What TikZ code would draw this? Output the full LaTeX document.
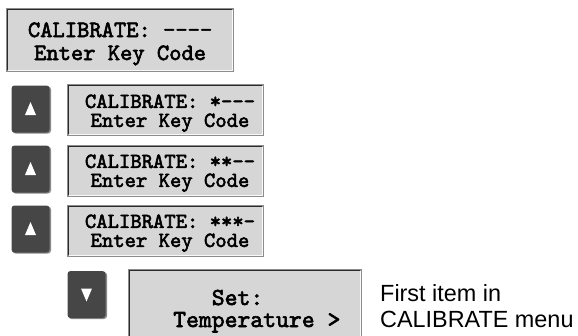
\documentclass[tikz,border=0pt]{standalone}
\usepackage{fontspec}
\setmainfont{Liberation Sans}
\newfontfamily\lcdfont{lmmono10-regular.otf}[FakeBold=2.5]
\definecolor{lcdfill}{HTML}{D6D6D6}
\definecolor{lcdedge}{HTML}{8C8C8C}
\definecolor{lcddark}{HTML}{2A2A2A}
\definecolor{btnfill}{HTML}{464646}
\definecolor{btnrim}{HTML}{8A8A8A}
\tikzset{
  lcdbox/.style={draw=lcdedge, line width=1.3pt, fill=lcdfill, inner sep=0pt, rectangle},
  btn/.style={fill=btnfill, rounded corners=3pt, inner sep=0pt, rectangle, minimum width=38pt, minimum height=47pt},
  lcdtxt/.style={inner sep=0pt, align=center},
  big/.style={lcdtxt, font=\lcdfont\fontsize{23.4}{23}\selectfont},
  small/.style={lcdtxt, font=\lcdfont\fontsize{21.6}{19}\selectfont},
  last/.style={lcdtxt, align=left, anchor=west, font=\lcdfont\fontsize{24.5}{22}\selectfont},
  note/.style={inner sep=0pt, align=left, anchor=west, font=\fontsize{23.4}{26}\selectfont},
  tri/.style={fill=white}
}
\newcommand{\lcdinner}[1]{%
  \draw[lcddark, line width=0.8pt] ([xshift=1.3pt,yshift=1.3pt]#1.south west) -- ([xshift=1.3pt,yshift=-1.3pt]#1.north west) -- ([xshift=-1.3pt,yshift=-1.3pt]#1.north east);
  \draw[white!85!lcdfill, line width=0.8pt] ([xshift=-1.3pt,yshift=-1.3pt]#1.north east) -- ([xshift=-1.3pt,yshift=1.3pt]#1.south east) -- ([xshift=1.3pt,yshift=1.3pt]#1.south west);
}
\newcommand{\btnshadowfor}[1]{%
  \fill[btnrim, rounded corners=3pt] ([xshift=-18pt,yshift=-24.5pt]#1.center) rectangle ([xshift=20.5pt,yshift=22.5pt]#1.center);
}
\begin{document}
\begin{tikzpicture}[x=1pt,y=-1pt]
\useasboundingbox (0,0) rectangle (578,335);
\clip (0,0) rectangle (578,335);

% LCD boxes
\node[lcdbox, minimum width=226pt, minimum height=62pt] (lcd0) at (120,40) {};
\lcdinner{lcd0}
\node[lcdbox, minimum width=195pt, minimum height=50pt] (lcd1) at (165.5,110) {};
\lcdinner{lcd1}
\node[lcdbox, minimum width=195pt, minimum height=50pt] (lcd2) at (165.5,171) {};
\lcdinner{lcd2}
\node[lcdbox, minimum width=195pt, minimum height=50pt] (lcd3) at (165.5,231) {};
\lcdinner{lcd3}
\node[lcdbox, minimum width=232pt, minimum height=70pt] (lcd4) at (245,305) {};
\lcdinner{lcd4}

% texts
\node[big] (t0) at (120.1,43.9) {CALIBRATE: ----\\Enter Key Code};
\node[small] (t1) at (170,113.2) {CALIBRATE: *---\\Enter Key Code};
\node[small] (t2) at (170,173.2) {CALIBRATE: **--\\Enter Key Code};
\node[small] (t3) at (170,233.2) {CALIBRATE: ***-\\Enter Key Code};
\node[last] (t4) at (173,311.1) {\phantom{Tem}Set:\\Temperature >};

\node[note] (n1) at (380,306.5) {First item in\\CALIBRATE menu};

% buttons
\coordinate (c1) at (30.5,109);
\coordinate (c2) at (30.5,169);
\coordinate (c3) at (30.5,229);
\coordinate (c4) at (86.5,294.5);
\btnshadowfor{c1}
\btnshadowfor{c2}
\btnshadowfor{c3}
\btnshadowfor{c4}
\node[btn] (b1) at (c1) {};
\node[btn] (b2) at (c2) {};
\node[btn] (b3) at (c3) {};
\node[btn] (b4) at (c4) {};

\fill[tri] ([xshift=-5.5pt,yshift=-6pt]b1.center) -- ([xshift=5.5pt,yshift=-6pt]b1.center) -- ([yshift=7pt]b1.center) -- cycle;
\fill[tri] ([xshift=-5.5pt,yshift=-6pt]b2.center) -- ([xshift=5.5pt,yshift=-6pt]b2.center) -- ([yshift=7pt]b2.center) -- cycle;
\fill[tri] ([xshift=-5.5pt,yshift=-6pt]b3.center) -- ([xshift=5.5pt,yshift=-6pt]b3.center) -- ([yshift=7pt]b3.center) -- cycle;
\fill[tri] ([xshift=-5.5pt,yshift=6pt]b4.center) -- ([xshift=5.5pt,yshift=6pt]b4.center) -- ([yshift=-7pt]b4.center) -- cycle;
\end{tikzpicture}
\end{document}
